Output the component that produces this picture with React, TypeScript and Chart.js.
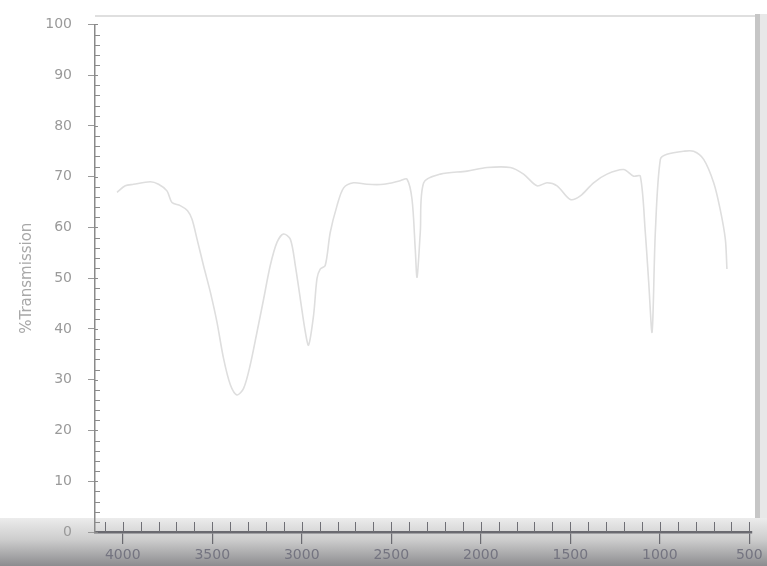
import React, { useEffect, useRef } from "react";
import { Chart, registerables } from "chart.js";

Chart.register(...registerables);

const wavenumbers = [4032, 3986, 3940, 3846, 3800, 3753, 3725, 3679, 3638, 3613, 3585, 3549, 3511, 3474, 3437, 3399, 3362, 3325, 3288, 3250, 3213, 3176, 3138, 3102, 3064, 3036, 3008, 2980, 2962, 2934, 2915, 2897, 2869, 2841, 2803, 2766, 2711, 2636, 2543, 2450, 2412, 2384, 2366, 2356, 2338, 2319, 2226, 2077, 1965, 1835, 1761, 1686, 1630, 1574, 1500, 1444, 1370, 1295, 1202, 1146, 1109, 1081, 1062, 1043, 1025, 997, 960, 867, 811, 755, 699, 663, 634, 625];
const transmission = [66.9, 68.2, 68.5, 69.0, 68.5, 67.2, 64.9, 64.3, 63.3, 61.6, 57.7, 52.5, 47.3, 41.4, 34.2, 29.0, 27.0, 28.3, 32.9, 39.4, 45.9, 52.5, 57.1, 58.7, 57.7, 52.5, 45.9, 39.4, 36.8, 42.7, 49.9, 51.8, 52.5, 59.0, 64.3, 67.8, 68.8, 68.5, 68.5, 69.2, 69.5, 65.5, 55.7, 50.2, 59.0, 68.8, 70.5, 71.1, 71.8, 71.8, 70.5, 68.2, 68.8, 68.2, 65.5, 66.2, 68.8, 70.5, 71.4, 70.1, 70.1, 59.0, 49.2, 39.4, 59.0, 73.4, 74.4, 75.0, 75.0, 73.4, 68.8, 63.6, 57.7, 51.8];

const xTickLabels = [4000, 3500, 3000, 2500, 2000, 1500, 1000, 500];
const xMin = 485;
const xMax = 4155;
const xMinorStep = 100;
const yMin = 0;
const yMax = 100;
const yStep = 10;
const yMinorStep = 2;
const yTitle = "%Transmission";

const decorPlugin = {
  id: "decor",
  beforeDraw(chart: any) {
    const { ctx, width, height, chartArea } = chart;
    ctx.save();
    ctx.fillStyle = "#ffffff";
    ctx.fillRect(0, 0, width, height);
    const g = ctx.createLinearGradient(0, 518, 0, height);
    g.addColorStop(0, "rgba(236,236,236,1)");
    g.addColorStop(0.45, "rgba(205,205,205,1)");
    g.addColorStop(1, "rgba(140,140,143,1)");
    ctx.fillStyle = g;
    ctx.fillRect(0, 518, width, height - 518);
    ctx.fillStyle = "#c6c6c6";
    ctx.fillRect(chartArea.right + 3, 14, 5, 504);
    ctx.fillStyle = "#e8e8e8";
    ctx.fillRect(chartArea.right + 8, 14, width - chartArea.right - 8, 504);
    ctx.strokeStyle = "#d4d4d4";
    ctx.lineWidth = 1.5;
    ctx.beginPath();
    ctx.moveTo(chartArea.left, 16);
    ctx.lineTo(chartArea.right + 3, 16);
    ctx.stroke();
    ctx.restore();
  },
  afterDraw(chart: any) {
    const { ctx, chartArea } = chart;
    const xs = chart.scales.x;
    const ys = chart.scales.y;
    ctx.save();
    ctx.strokeStyle = "#8a8a8a";
    ctx.lineWidth = 1;
    for (let v = yMin; v <= yMax; v += yMinorStep) {
      const y = Math.round(ys.getPixelForValue(v)) + 0.5;
      ctx.beginPath();
      ctx.moveTo(chartArea.left, y);
      ctx.lineTo(chartArea.left + (v % yStep === 0 ? 3 : 5), y);
      ctx.stroke();
    }
    ctx.strokeStyle = "#6f6f75";
    for (let v = 500; v <= 4100; v += xMinorStep) {
      const x = Math.round(xs.getPixelForValue(v)) + 0.5;
      ctx.beginPath();
      ctx.moveTo(x, chartArea.bottom);
      ctx.lineTo(x, chartArea.bottom - 10);
      ctx.stroke();
    }
    ctx.restore();
  },
};

export default function App() {
  const ref = useRef<HTMLCanvasElement | null>(null);
  useEffect(() => {
    document.body.style.margin = "0";
    const canvas = ref.current;
    if (!canvas) return;
    const points = wavenumbers.map((w, i) => ({ x: w, y: transmission[i] }));
    const chart = new Chart(canvas, {
      type: "scatter",
      data: {
        datasets: [
          {
            data: points,
            showLine: true,
            borderColor: "rgb(222,222,222)",
            borderWidth: 1.6,
            pointRadius: 0,
            tension: 0.3,
            fill: false,
          },
        ],
      },
      plugins: [decorPlugin],
      options: {
        animation: false,
        responsive: false,
        maintainAspectRatio: false,
        layout: { padding: { left: 0, right: 15, top: 19, bottom: 0 } },
        plugins: { legend: { display: false }, tooltip: { enabled: false } },
        scales: {
          x: {
            type: "linear",
            reverse: true,
            min: xMin,
            max: xMax,
            afterFit: (s: any) => { s.height = 34; },
            afterBuildTicks: (s: any) => { s.ticks = xTickLabels.map((v) => ({ value: v })); },
            border: { display: true, color: "#6a6a70", width: 2.5 },
            grid: { display: true, drawOnChartArea: false, drawTicks: true, tickLength: 12, color: "#6a6a70", lineWidth: 1.2 },
            ticks: {
              autoSkip: false,
              maxRotation: 0,
              padding: 3,
              color: "#747480",
              font: { family: "DejaVu Sans, sans-serif", size: 14 },
              callback: (v: any) => String(v),
            },
          },
          y: {
            type: "linear",
            min: yMin,
            max: yMax,
            afterFit: (s: any) => { s.width = 95; },
            border: { display: true, color: "#8a8a8a", width: 1.5 },
            grid: { display: true, drawOnChartArea: false, drawTicks: true, tickLength: 7, color: "#9a9a9a", lineWidth: 1 },
            title: {
              display: true,
              text: yTitle,
              color: "#a8a8a8",
              font: { family: "DejaVu Sans, sans-serif", size: 15 },
              padding: { top: 18, bottom: 0 },
            },
            ticks: {
              stepSize: yStep,
              padding: 16,
              color: "#9a9a9a",
              font: { family: "DejaVu Sans, sans-serif", size: 14 },
            },
          },
        },
      },
    });
    return () => chart.destroy();
  }, []);
  return <canvas ref={ref} width={767} height={566} style={{ display: "block" }} />;
}
